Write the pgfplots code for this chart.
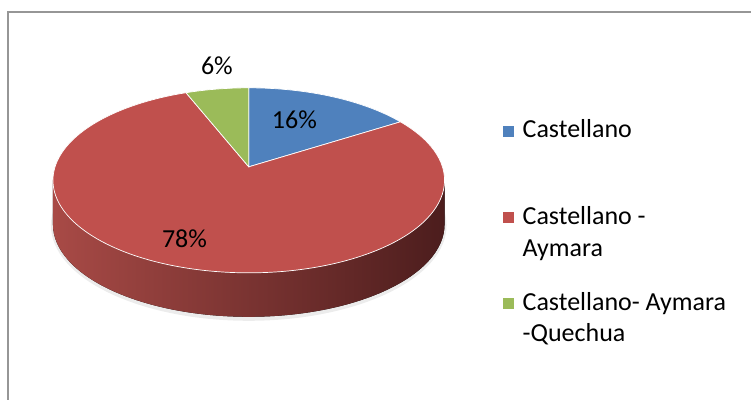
\documentclass[border=0pt]{standalone}
\usepackage{fontspec}
\setmainfont{Carlito}
\usepackage{pgfplots}
\usepackage{pgfplotstable}
\pgfplotsset{compat=1.18}
\definecolor{cBlue}{RGB}{79,129,189}
\definecolor{cRed}{RGB}{192,80,77}
\definecolor{cGreen}{RGB}{155,187,89}
\definecolor{sideL}{RGB}{168,74,70}
\definecolor{sideM}{RGB}{112,45,43}
\definecolor{sideR}{RGB}{76,29,29}
\definecolor{frameC}{RGB}{150,150,150}

\pgfplotstableread{
name value
Castellano 16
CastellanoAymara 78
CastellanoAymaraQuechua 6
}\piedata

% pie geometry (axis units = pixels of the reference, y upwards)
\def\cx{249}\def\cy{233}\def\rx{196}\def\ry{92.6}\def\kk{0.146}\def\depth{44}

\newcommand\ellparam[2]{%
  \pgfmathsetmacro\tmpden{1+\kk*sin(#1)}%
  \pgfmathsetmacro\tmpu{\rx*sqrt(1-\kk*\kk)*cos(#1)/\tmpden}%
  \pgfmathsetmacro\tmpv{\ry*(1-\kk*\kk)*sin(#1)/\tmpden + \ry*\kk}%
  \pgfmathsetmacro#2{atan2(\tmpv/\ry,\tmpu/\rx)}%
}

\pgfplotstablegetelem{0}{value}\of\piedata \let\vA\pgfplotsretval
\pgfplotstablegetelem{1}{value}\of\piedata \let\vB\pgfplotsretval
\pgfplotstablegetelem{2}{value}\of\piedata \let\vC\pgfplotsretval
\pgfmathsetmacro\aA{90}
\pgfmathsetmacro\aB{\aA-3.6*\vA}
\pgfmathsetmacro\aC{\aB-3.6*\vB}
\pgfmathsetmacro\aD{\aC-3.6*\vC}
\ellparam{\aA}\tA
\ellparam{\aB}\tB
\ellparam{\aC}\tC
\ellparam{\aD}\tD
% ensure clockwise arcs (end < start)
\pgfmathsetmacro\tBend{\tB>\tA ? \tB-360 : \tB}
\pgfmathsetmacro\tCend{\tC>\tB ? \tC-360 : \tC}
\pgfmathsetmacro\tDend{\tD>\tC ? \tD-360 : \tD}
\pgfmathsetmacro\ecy{\cy-\ry*\kk}
\pgfmathsetmacro\bcy{\ecy-\depth}

\begin{document}
\begin{tikzpicture}
\begin{axis}[
  width=752pt, height=400pt, scale only axis,
  xmin=0, xmax=752, ymin=0, ymax=400,
  hide axis, clip=false,
]
\path (0,0) rectangle (752,400);
% frame
\draw[frameC, line width=1.5pt] (8,0) -- (8,388) -- (752,388);
% soft shadow
\fill[gray!15] (\cx,{\bcy-1}) ellipse[x radius={\rx+2}, y radius={\ry+3}];
% side wall (front, all red)
\fill[left color=sideL, middle color=sideM, right color=sideR]
  ({\cx-\rx},\ecy) arc[start angle=180, end angle=360, x radius=\rx, y radius=\ry]
  -- ({\cx+\rx},\bcy) arc[start angle=360, end angle=180, x radius=\rx, y radius=\ry] -- cycle;
% top slices
\fill[cBlue, draw=white, line width=0.7pt] (\cx,\cy) -- ({\cx+\rx*cos(\tA)},{\ecy+\ry*sin(\tA)})
  arc[start angle=\tA, end angle=\tBend, x radius=\rx, y radius=\ry] -- cycle;
\fill[cRed, draw=white, line width=0.7pt] (\cx,\cy) -- ({\cx+\rx*cos(\tB)},{\ecy+\ry*sin(\tB)})
  arc[start angle=\tB, end angle=\tCend, x radius=\rx, y radius=\ry] -- cycle;
\fill[cGreen, draw=white, line width=0.7pt] (\cx,\cy) -- ({\cx+\rx*cos(\tC)},{\ecy+\ry*sin(\tC)})
  arc[start angle=\tC, end angle=\tDend, x radius=\rx, y radius=\ry] -- cycle;
% labels
\begingroup
\node[anchor=base west, inner sep=0, font=\fontsize{26}{31}\selectfont] at (272,271.7) {16\%};
\node[anchor=base west, inner sep=0, font=\fontsize{26}{31}\selectfont] at (162,152.3) {78\%};
\node[anchor=base west, inner sep=0, font=\fontsize{26}{31}\selectfont] at (201,325) {6\%};
\endgroup
% legend
\fill[cBlue] (503,263) rectangle (515,274);
\fill[cRed] (503,177) rectangle (515,188);
\fill[cGreen] (503,91) rectangle (515,102);
\node[anchor=base west, inner sep=0, font=\fontsize{26}{31}\selectfont] at (523,262.7) {Castellano};
\node[anchor=base west, inner sep=0, font=\fontsize{26}{31}\selectfont] at (523,175) {Castellano -};
\node[anchor=base west, inner sep=0, font=\fontsize{26}{31}\selectfont] at (523,143.3) {Aymara};
\node[anchor=base west, inner sep=0, font=\fontsize{26}{31}\selectfont] at (523,89.3) {Castellano- Aymara};
\node[anchor=base west, inner sep=0, font=\fontsize{26}{31}\selectfont] at (523,57.7) {-Quechua};
\end{axis}
\end{tikzpicture}
\end{document}
